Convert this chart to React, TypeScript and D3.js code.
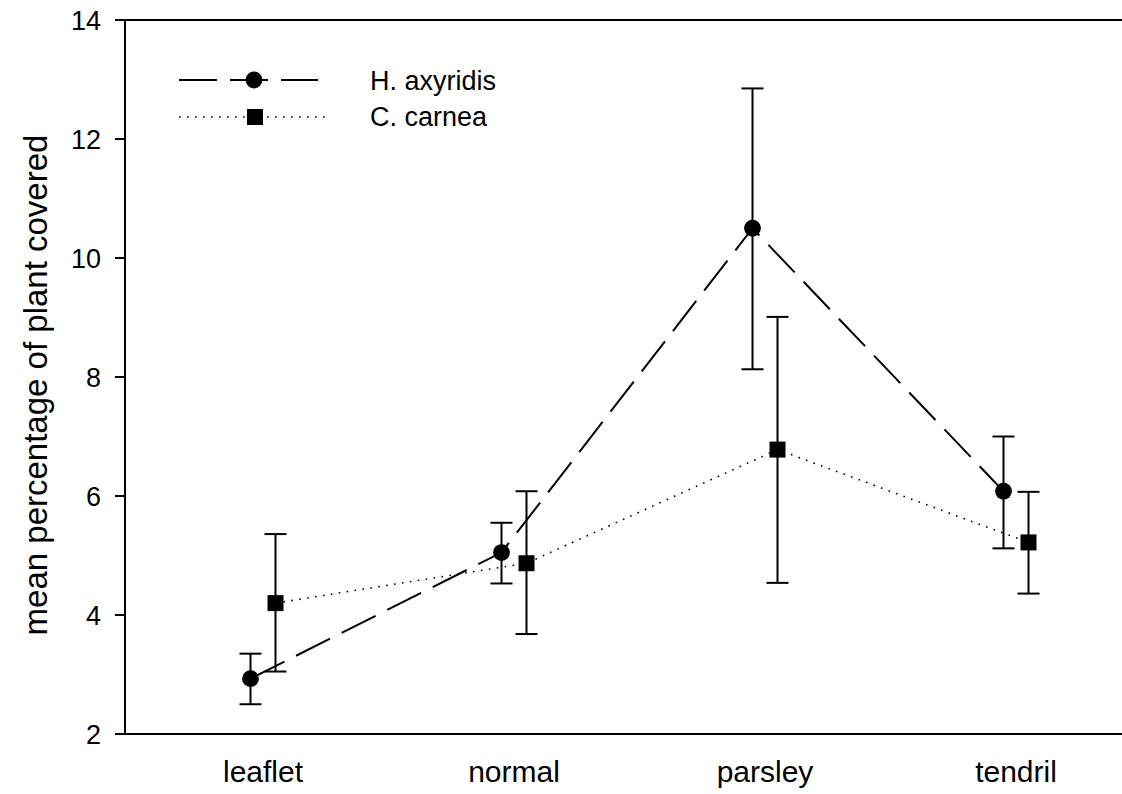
import React from "react";
import * as d3 from "d3";

// Leaf morphology treatments
const categories = ["leaflet", "normal", "parsley", "tendril"];

// H. axyridis: mean and error bar limits
const axyridisMean = [2.93, 5.05, 10.5, 6.08];
const axyridisLow = [2.5, 4.53, 8.13, 5.12];
const axyridisHigh = [3.35, 5.55, 12.85, 7.0];

// C. carnea: mean and error bar limits
const carneaMean = [4.2, 4.87, 6.78, 5.22];
const carneaLow = [3.05, 3.68, 4.54, 4.36];
const carneaHigh = [5.36, 6.08, 9.01, 6.07];

const yTicks = [2, 4, 6, 8, 10, 12, 14];

const W = 1122;
const H = 794;
const FONT = "'Liberation Sans', Arial, Helvetica, sans-serif";

export default function App() {
  const axisX = 125;
  const x = d3.scalePoint<string>().domain(categories).range([263, 1016]);
  const y = d3.scaleLinear().domain([2, 14]).range([734, 20]);
  const shift = 12.5;
  const capHalf = 11;

  const series = [
    {
      name: "H. axyridis",
      mean: axyridisMean,
      low: axyridisLow,
      high: axyridisHigh,
      dx: -shift,
      dash: "38,13",
      width: 2,
      marker: "circle",
    },
    {
      name: "C. carnea",
      mean: carneaMean,
      low: carneaLow,
      high: carneaHigh,
      dx: shift,
      dash: "1.6,6.4",
      width: 1.6,
      marker: "square",
    },
  ];

  const lineFor = (dx: number) =>
    d3
      .line<number>()
      .x((_, i) => (x(categories[i]) as number) + dx)
      .y((d) => y(d));

  const marker = (kind: string, cx: number, cy: number, key: string) =>
    kind === "circle" ? (
      <circle key={key} cx={cx} cy={cy} r={8.4} fill="#000" />
    ) : (
      <rect key={key} x={cx - 8} y={cy - 8} width={16} height={16} fill="#000" />
    );

  return (
    <svg
      width={W}
      height={H}
      style={{ position: "absolute", left: 0, top: 0, background: "#fff" }}
      fontFamily={FONT}
    >
      {/* frame: left axis, top and bottom lines */}
      <line x1={axisX} x2={axisX} y1={y(14)} y2={y(2)} stroke="#000" strokeWidth={2} />
      <line x1={axisX - 10} x2={W + 5} y1={y(14)} y2={y(14)} stroke="#000" strokeWidth={2} />
      <line x1={axisX - 10} x2={W + 5} y1={y(2)} y2={y(2)} stroke="#000" strokeWidth={2} />

      {/* y ticks */}
      {yTicks.map((t) => (
        <g key={t}>
          <line x1={axisX - 10} x2={axisX} y1={y(t)} y2={y(t)} stroke="#000" strokeWidth={2} />
          <text x={101} y={y(t) + 10} textAnchor="end" fontSize={27} fill="#000">
            {t}
          </text>
        </g>
      ))}

      {/* y axis title */}
      <text
        transform={`translate(47, 385) rotate(-90)`}
        textAnchor="middle"
        fontSize={33}
        fill="#000"
      >
        mean percentage of plant covered
      </text>

      {/* x category labels */}
      {categories.map((c) => (
        <text key={c} x={x(c)} y={782} textAnchor="middle" fontSize={30} fill="#000">
          {c}
        </text>
      ))}

      {/* connecting lines */}
      {series.map((s) => (
        <path
          key={s.name + "-line"}
          d={lineFor(s.dx)(s.mean) || ""}
          fill="none"
          stroke="#000"
          strokeWidth={s.width}
          strokeDasharray={s.dash}
        />
      ))}

      {/* error bars */}
      {series.map((s) =>
        s.mean.map((_, i) => {
          const cx = (x(categories[i]) as number) + s.dx;
          return (
            <g key={s.name + "-err-" + i} stroke="#000" strokeWidth={2}>
              <line x1={cx} x2={cx} y1={y(s.low[i])} y2={y(s.high[i])} />
              <line x1={cx - capHalf} x2={cx + capHalf} y1={y(s.low[i])} y2={y(s.low[i])} />
              <line x1={cx - capHalf} x2={cx + capHalf} y1={y(s.high[i])} y2={y(s.high[i])} />
            </g>
          );
        })
      )}

      {/* markers */}
      {series.map((s) =>
        s.mean.map((v, i) =>
          marker(s.marker, (x(categories[i]) as number) + s.dx, y(v), s.name + "-m-" + i)
        )
      )}

      {/* legend */}
      <g>
        <line x1={179} x2={318} y1={80} y2={80} stroke="#000" strokeWidth={2} strokeDasharray="38,13" />
        {marker("circle", 254, 80, "leg-c")}
        <text x={370} y={90} fontSize={27} fill="#000">
          H. axyridis
        </text>
        <line x1={179} x2={330} y1={117} y2={117} stroke="#000" strokeWidth={1.6} strokeDasharray="1.6,6.4" />
        {marker("square", 255, 117, "leg-s")}
        <text x={370} y={126} fontSize={27} fill="#000">
          C. carnea
        </text>
      </g>
    </svg>
  );
}
